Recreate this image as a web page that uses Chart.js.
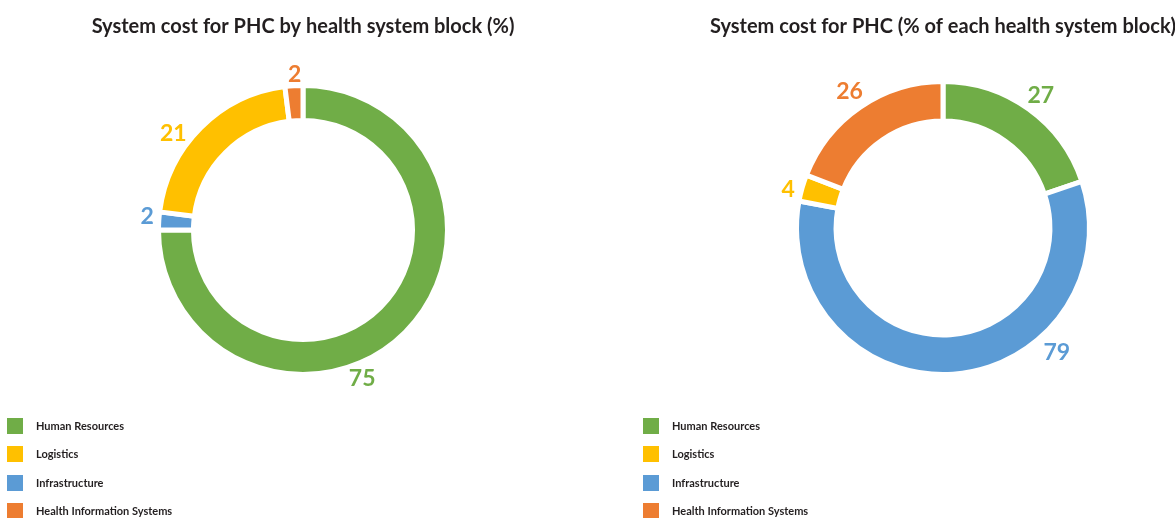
<!DOCTYPE html>
<html>
<head>
<meta charset="utf-8">
<script src="https://cdn.jsdelivr.net/npm/chart.js@4.4.1/dist/chart.umd.min.js"></script>
<style>
  html, body { margin: 0; padding: 0; background: #ffffff; }
  body { width: 1175px; height: 518px; position: relative; overflow: hidden; font-family: Lato, "Open Sans", sans-serif; }
  .panel { position: absolute; top: 0; width: 606px; height: 420px; }
  .legend { position: absolute; top: 418px; margin: 0; padding: 0; list-style: none; }
  .legend li { position: relative; height: 16px; margin-bottom: 12.3px; }
  .legend .sw { position: absolute; left: 0; top: 0; width: 16px; height: 16px; }
  .legend .tx { position: absolute; left: 29px; top: 0; line-height: 16px; font-size: 11px; font-weight: 700; color: #231f20; white-space: nowrap; }
</style>
</head>
<body>
<div class="panel" style="left:0px"><canvas id="shareChart"></canvas></div>
<div class="panel" style="left:640px"><canvas id="blockChart"></canvas></div>
<ul class="legend" id="shareLegend" style="left:7px"></ul>
<ul class="legend" id="blockLegend" style="left:643px"></ul>
<script>
// Health system blocks, in legend order
const categories = ['Human Resources', 'Logistics', 'Infrastructure', 'Health Information Systems'];
const blockColors = ['#70ad47', '#ffc000', '#5b9bd5', '#ed7d31'];

// Share of PHC system cost by block (%)
const sharePct = [75, 21, 2, 2];
// PHC system cost as % of each block
const blockPct = [27, 4, 79, 26];

// Order of the blocks around the ring, clockwise from 12 o'clock
const ringOrder = [0, 2, 1, 3];

const TEXT = '#231f20';
const FONT = 'Lato, "Open Sans", sans-serif';

// Draws each slice's value outside the ring, in the slice colour
const outsideLabels = {
  id: 'outsideLabels',
  afterDatasetsDraw(chart, args, opts) {
    const ctx = chart.ctx;
    const meta = chart.getDatasetMeta(0);
    const ds = chart.data.datasets[0];
    ctx.save();
    ctx.font = 'bold ' + opts.size + 'px ' + FONT;
    ctx.textAlign = 'center';
    ctx.textBaseline = 'middle';
    meta.data.forEach((arc, i) => {
      const p = arc.getProps(['x', 'y', 'startAngle', 'endAngle', 'outerRadius'], true);
      const a = p.startAngle + opts.along[i] * (p.endAngle - p.startAngle);
      const r = p.outerRadius + opts.gap[i];
      ctx.fillStyle = ds.backgroundColor[i];
      ctx.fillText(String(ds.data[i]), p.x + Math.cos(a) * r, p.y + Math.sin(a) * r);
    });
    ctx.restore();
  }
};

function buildLegend(id) {
  const ul = document.getElementById(id);
  categories.forEach((name, i) => {
    const li = document.createElement('li');
    const sw = document.createElement('span');
    sw.className = 'sw';
    sw.style.background = blockColors[i];
    const tx = document.createElement('span');
    tx.className = 'tx';
    tx.textContent = name;
    li.appendChild(sw);
    li.appendChild(tx);
    ul.appendChild(li);
  });
}

function makeDonut(canvasId, title, values, cfg) {
  const el = document.getElementById(canvasId);
  el.width = 606; el.height = 420;
  return new Chart(el, {
    type: 'doughnut',
    data: {
      labels: ringOrder.map(i => categories[i]),
      datasets: [{
        data: ringOrder.map(i => values[i]),
        backgroundColor: ringOrder.map(i => blockColors[i]),
        borderColor: '#ffffff',
        borderWidth: 5,
        hoverOffset: 0
      }]
    },
    options: {
      responsive: false,
      animation: false,
      cutout: cfg.cutout,
      layout: { padding: { top: 0, bottom: cfg.bottom, left: 0, right: 0 } },
      plugins: {
        legend: { display: false },
        tooltip: { enabled: false },
        title: {
          display: true,
          text: title,
          color: TEXT,
          font: { family: FONT, size: 20, weight: 'bold', lineHeight: 1.2 },
          padding: { top: 15, bottom: cfg.titleGap }
        },
        outsideLabels: { size: 23, along: cfg.along, gap: cfg.gap }
      }
    },
    plugins: [outsideLabels]
  });
}

buildLegend('shareLegend');
buildLegend('blockLegend');

makeDonut('shareChart', 'System cost for PHC by health system block (%)', sharePct, {
  cutout: '75.8%', bottom: 43, titleGap: 44,
  along: [0.586, 0.67, 0.389, 0.57],
  gap: [15, 12, 17, 11]
});

makeDonut('blockChart', 'System cost for PHC (% of each health system block)', blockPct, {
  cutout: '73%', bottom: 43, titleGap: 40,
  along: [0.51, 0.316, 0.33, 0.5],
  gap: [18, 22, 13, 19]
});
</script>
</body>
</html>
